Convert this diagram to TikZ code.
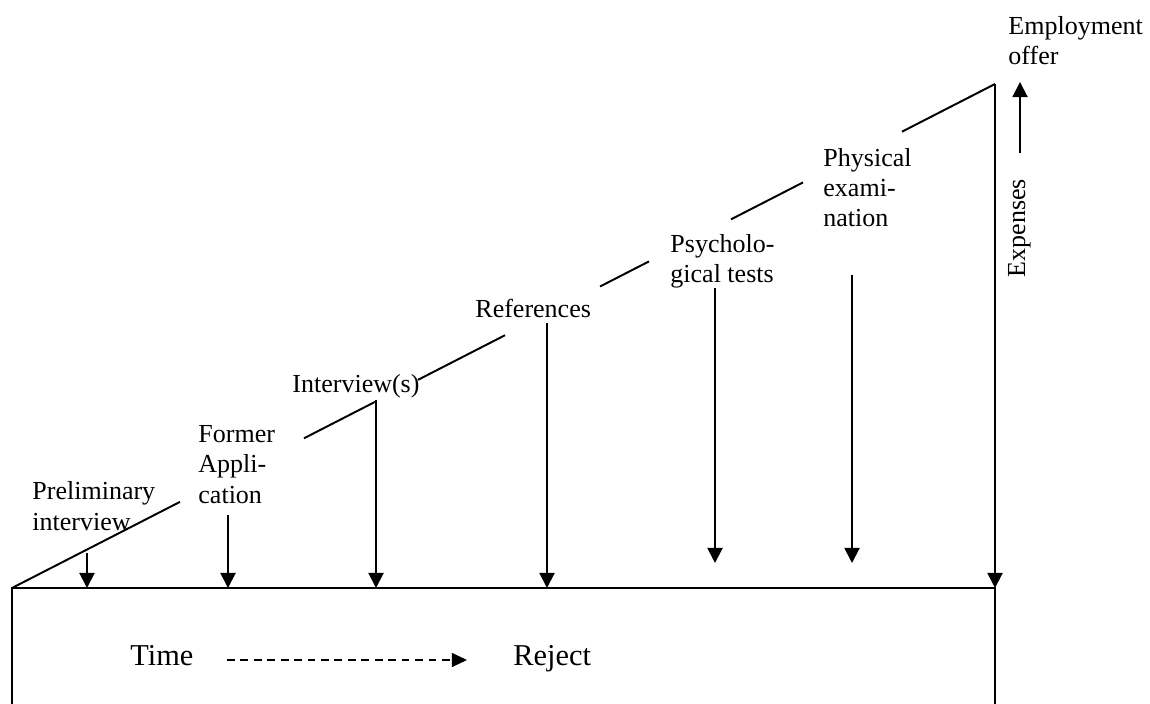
\documentclass[tikz,border=0pt]{standalone}
\usepackage{fontspec}
\setmainfont{Liberation Serif}
\usetikzlibrary{arrows.meta,calc}
\begin{document}
\begin{tikzpicture}[x=0.4615pt,y=-0.4615pt,
  lbl/.style={inner sep=0pt,anchor=base west,align=left,font=\fontsize{12}{13.85}\selectfont},
  big/.style={inner sep=0pt,anchor=base west,font=\fontsize{14}{16}\selectfont},
  ln/.style={line width=0.9pt},
  arr/.style={line width=0.9pt,-{Triangle[width=7pt,length=7pt]}},
  dasharr/.style={line width=0.5pt,dash pattern=on 3.6pt off 2.6pt,-{Triangle[width=6.5pt,length=7pt]}}]
\useasboundingbox (0,0) rectangle (1150,704);
% ramp
\coordinate (r0) at (12,588);
\coordinate (r1) at (995,84);
\draw[ln] (r0) -- ($(r0)!0.17090!(r1)$);
\draw[ln] ($(r0)!0.29705!(r1)$) -- ($(r0)!0.37029!(r1)$);
\draw[ln] ($(r0)!0.41302!(r1)$) -- ($(r0)!0.50153!(r1)$);
\draw[ln] ($(r0)!0.59817!(r1)$) -- ($(r0)!0.64802!(r1)$);
\draw[ln] ($(r0)!0.73144!(r1)$) -- ($(r0)!0.80468!(r1)$);
\draw[ln] ($(r0)!0.90539!(r1)$) -- (r1);
% base box
\coordinate (bl) at (12,704);
\coordinate (br) at (995,704);
\coordinate (brt) at (995,588);
\draw[ln] (bl) -- (r0) -- (brt) -- (br);
% labels (base = baseline of last line)
\node[lbl] (prelim) at (32,530) {Preliminary\\interview};
\node[lbl] (former) at (198,503) {Former\\Appli-\\cation};
\node[lbl] (interv) at (292,393) {Interview(s)};
\node[lbl] (refs) at (475,318) {References};
\node[lbl] (psych) at (670,283) {Psycholo-\\gical tests};
\node[lbl] (phys) at (823,227) {Physical\\exami-\\nation};
\node[lbl] (offer) at (1008,65) {Employment\\offer};
\node[lbl,anchor=base,rotate=90] (exp) at (1025,228) {Expenses};
\node[big] (time) at (130,665) {Time};
\node[big] (reject) at (513,665) {Reject};
% reject arrows
\coordinate (s1) at (87,553);  \coordinate (e1) at (87,588);
\coordinate (s2) at (228,515); \coordinate (e2) at (228,588);
\coordinate (s3) at (376,400); \coordinate (e3) at (376,588);
\coordinate (s4) at (547,323); \coordinate (e4) at (547,588);
\coordinate (s5) at (715,288); \coordinate (e5) at (715,563);
\coordinate (s6) at (852,275); \coordinate (e6) at (852,563);
\draw[arr] (s1) -- (e1);
\draw[arr] (s2) -- (e2);
\draw[arr] (s3) -- (e3);
\draw[arr] (s4) -- (e4);
\draw[arr] (s5) -- (e5);
\draw[arr] (s6) -- (e6);
\draw[arr] (r1) -- (brt);
% expenses arrow
\coordinate (x0) at (1020,153);
\coordinate (x1) at (1020,82);
\draw[arr] (x0) -- (x1);
% time arrow
\coordinate (t0) at (227,660);
\coordinate (t1) at (467,660);
\draw[dasharr] (t0) -- (t1);
\end{tikzpicture}
\end{document}
